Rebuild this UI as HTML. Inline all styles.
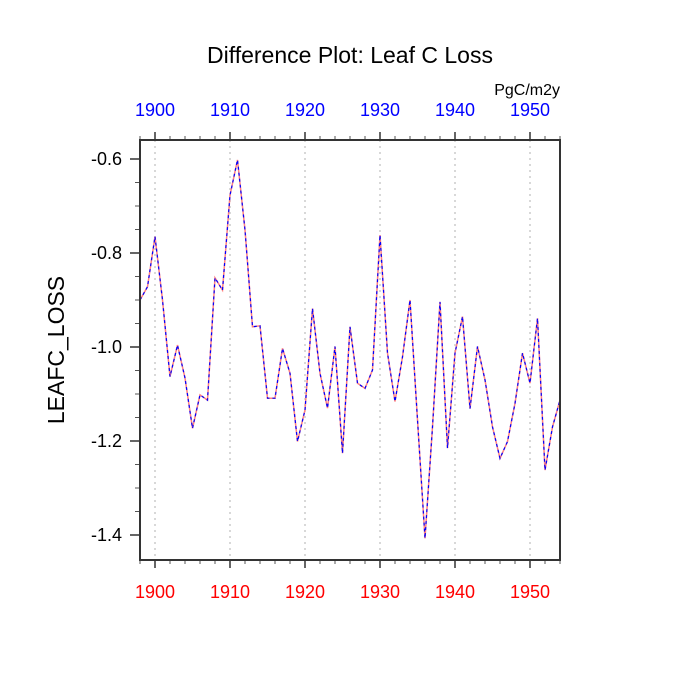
<!DOCTYPE html>
<html><head><meta charset="utf-8"><style>
html,body{margin:0;padding:0;background:#fff;width:700px;height:700px;overflow:hidden}
svg text{font-family:"Liberation Sans",sans-serif}
</style></head><body>
<svg id="chart" width="700" height="700" viewBox="0 0 700 700" xmlns="http://www.w3.org/2000/svg">
<text x="350" y="63" font-size="23" text-anchor="middle">Difference Plot: Leaf C Loss</text>
<text x="560" y="95" font-size="16" text-anchor="end">PgC/m2y</text>
<text transform="translate(64,350) rotate(-90)" font-size="23" text-anchor="middle">LEAFC_LOSS</text>
<g id="grid"></g><g id="axes"></g><g id="series"></g>
<rect x="140" y="140" width="420" height="420" fill="none" stroke="#333" stroke-width="2"/>
</svg>
<script>
const years = [];
for (let y = 1898; y <= 1954; y++) years.push(y);
const values = [-0.900,-0.872,-0.765,-0.900,-1.063,-0.996,-1.066,-1.173,-1.102,-1.113,
-0.853,-0.879,-0.677,-0.602,-0.751,-0.957,-0.955,-1.109,-1.109,-1.003,
-1.056,-1.201,-1.134,-0.918,-1.056,-1.130,-0.999,-1.226,-0.957,-1.077,
-1.088,-1.049,-0.762,-1.013,-1.116,-1.021,-0.900,-1.155,-1.407,-1.170,
-0.904,-1.215,-1.013,-0.935,-1.131,-0.999,-1.070,-1.170,-1.237,-1.201,
-1.120,-1.013,-1.077,-0.939,-1.262,-1.170,-1.113];
const xTickLabels = [1900,1910,1920,1930,1940,1950];
const yTickLabels = [-0.6,-0.8,-1.0,-1.2,-1.4];

const NS = "http://www.w3.org/2000/svg";
const L=140,R=560,T=140,B=560;
const xMin=1898,xMax=1954,yTop=-0.6+19/470,yBot=-0.6-401/470;
const xs = v => L + (v-xMin)/(xMax-xMin)*(R-L);
const ys = v => T + (yTop-v)/(yTop-yBot)*(B-T);
function mk(tag, attrs, parent){const e=document.createElementNS(NS,tag);for(const k in attrs)e.setAttribute(k,attrs[k]);parent.appendChild(e);return e;}
const grid=document.getElementById('grid'), axes=document.getElementById('axes'), series=document.getElementById('series');

xTickLabels.forEach(yr=>{
  const x=xs(yr);
  const g=mk('line',{x1:x,x2:x,y1:T,y2:B,stroke:'#ccc','stroke-width':1.5,'stroke-dasharray':'2,4'},grid);
  
  
  const t1=mk('line',{x1:x,x2:x,y1:T-8,y2:T,stroke:'#333','stroke-width':1.5},axes);
  
  
  const t2=mk('line',{x1:x,x2:x,y1:B,y2:B+8,stroke:'#333','stroke-width':1.5},axes);
  
  
  const lt=mk('text',{x:x,y:116,'font-size':18,'text-anchor':'middle',fill:'#0000ff'},axes);
  lt.textContent=yr;
  
  
  const lb=mk('text',{x:x,y:598,'font-size':18,'text-anchor':'middle',fill:'#ff0000'},axes);
  lb.textContent=yr;
  
  
});
for(let yr=1898; yr<=1954; yr+=2){
  if(yr%10===0) continue;
  const x=xs(yr);
  const a=mk('line',{x1:x,x2:x,y1:T-4,y2:T,stroke:'#555','stroke-width':1},axes);
  
  
  const b=mk('line',{x1:x,x2:x,y1:B,y2:B+4,stroke:'#555','stroke-width':1},axes);
  
  
}
yTickLabels.forEach(v=>{
  const y=ys(v);
  const t=mk('line',{x1:L-10,x2:L,y1:y,y2:y,stroke:'#333','stroke-width':1.5},axes);
  
  
  const lt=mk('text',{x:L-18,y:y+6,'font-size':18,'text-anchor':'end',fill:'#000'},axes);
  lt.textContent=v.toFixed(1);
  
  
});
for(let v=-0.55; v>=-1.45; v-=0.05){
  const r=Math.round(v*100);
  if(r%20===0) continue;
  const y=ys(r/100);
  if(y<T||y>B) continue;
  const t=mk('line',{x1:L-5,x2:L,y1:y,y2:y,stroke:'#555','stroke-width':1},axes);
  
  
}
const pts=years.map((yr,i)=>xs(yr).toFixed(1)+','+ys(values[i]).toFixed(1)).join(' ');
const red=mk('polyline',{points:pts,fill:'none',stroke:'#ff8080','stroke-width':1.5},series);


const blue=mk('polyline',{points:pts,fill:'none',stroke:'#0000ff','stroke-width':1.2,'stroke-dasharray':'3,3'},series);


</script>
</body></html>
